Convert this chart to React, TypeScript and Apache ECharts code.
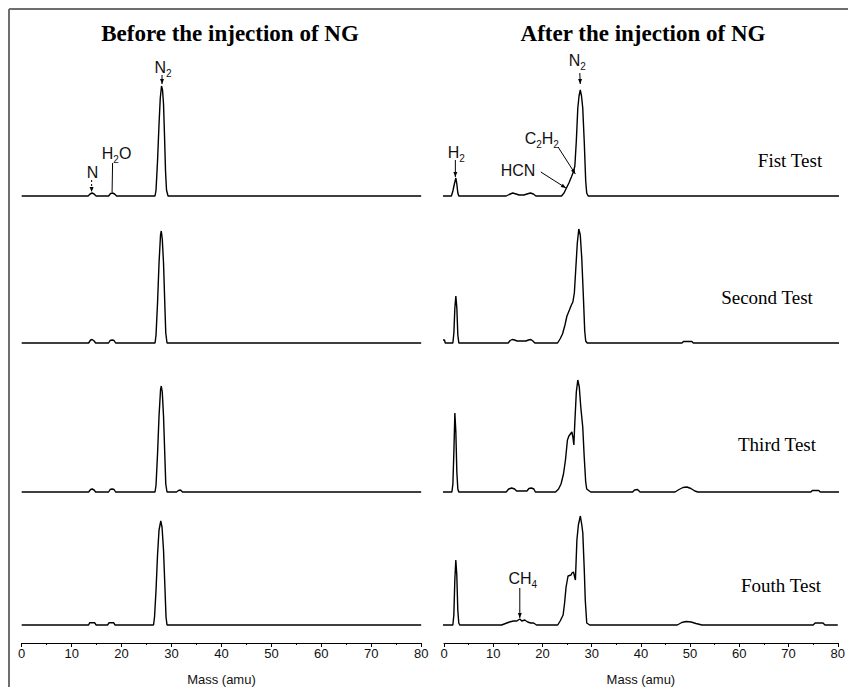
import React, { useEffect, useRef } from "react";
import * as echarts from "echarts";

// ---------- data (mass in amu, intensity in arbitrary units) ----------
const beforeTest1: number[][] = [[0,0],[13.3,0],[13.7,2],[14.1,3],[14.5,2],[14.9,0],[17.4,0],[17.8,2.5],[18.2,3],[18.6,2],[19.0,0],[26.7,0],[26.9,6],[27.2,35],[27.5,72],[27.75,98],[28.0,110],[28.2,106],[28.4,92],[28.6,60],[28.8,25],[29.0,6],[29.3,0],[80,0]];
const beforeTest2: number[][] = [[0,0],[13.4,0],[13.8,3],[14.1,3.5],[14.5,2],[14.8,0],[17.4,0],[17.7,2.5],[18.1,3],[18.5,2.5],[18.8,0],[26.7,0],[26.9,8],[27.2,40],[27.5,80],[27.8,108],[27.95,112],[28.15,104],[28.4,80],[28.65,40],[28.85,10],[29.1,0],[80,0]];
const beforeTest3: number[][] = [[0,0],[13.4,0],[13.8,2.5],[14.1,3],[14.5,2],[14.8,0],[17.4,0],[17.7,2.5],[18.1,3],[18.5,2.5],[18.8,0],[26.7,0],[26.9,7],[27.2,38],[27.5,76],[27.8,102],[27.95,106],[28.15,100],[28.4,76],[28.65,38],[28.85,8],[29.1,0],[31.0,0],[31.4,1.5],[31.8,2],[32.2,0],[80,0]];
const beforeTest4: number[][] = [[0,0],[13.4,0],[13.6,2.3],[14.6,2.3],[14.9,0],[17.2,0],[17.5,2.3],[18.4,2.3],[18.7,0],[26.4,0],[26.6,8],[26.9,35],[27.2,70],[27.5,95],[27.85,104],[28.1,98],[28.4,75],[28.7,35],[28.9,8],[29.1,0],[80,0]];

const afterTest1: number[][] = [[-0.5,0],[1.5,0],[1.8,5],[2.1,12],[2.4,18],[2.6,12],[2.8,3],[3.0,0],[12.6,0],[13.2,1.5],[13.9,3],[14.6,2],[15.2,1],[16.2,1],[16.8,2],[17.5,3],[18.1,2],[18.6,0],[23.8,0],[24.3,3],[24.8,8],[25.3,13],[25.8,19],[26.2,24],[26.5,30],[26.8,55],[27.1,88],[27.35,100],[27.6,106],[27.85,100],[28.1,88],[28.4,55],[28.7,15],[28.9,3],[29.2,0],[80,0]];
const afterTest2: number[][] = [[-0.5,3],[0.1,3],[0.25,0],[1.8,0],[2.0,10],[2.2,35],[2.4,47],[2.6,35],[2.8,8],[3.0,0],[13.0,0],[13.4,2.5],[13.8,3.5],[14.3,3],[14.8,2],[16.6,2],[17.1,3],[17.6,3.5],[18.0,2],[18.4,0],[23.0,0],[23.5,4],[24.0,9],[24.5,18],[24.9,27],[25.4,33],[25.8,38],[26.1,41],[26.4,50],[26.7,75],[27.0,100],[27.3,114],[27.6,108],[27.9,85],[28.2,50],[28.5,12],[28.7,2],[29.0,0],[48.2,0],[48.5,1.5],[50.2,1.5],[50.5,0],[80,0]];
const afterTest3: number[][] = [[-0.5,0],[1.6,0],[1.8,8],[2.0,40],[2.2,79],[2.4,60],[2.6,20],[2.8,3],[3.0,0],[12.6,0],[13.1,3],[13.7,4],[14.3,3],[14.7,1],[16.8,1],[17.2,3.5],[17.7,4],[18.2,3],[18.5,0],[22.6,0],[23.2,3],[23.7,8],[24.2,18],[24.6,32],[25.0,52],[25.3,56],[25.6,58],[25.9,60],[26.1,55],[26.3,47],[26.5,70],[26.8,100],[27.1,112],[27.4,105],[27.7,85],[28.1,65],[28.4,35],[28.7,10],[28.9,3],[29.7,0],[38.2,0],[38.6,2],[39.2,2.5],[39.7,0],[46.8,0],[47.6,2.5],[48.4,4.5],[49.2,5],[50.0,3.5],[50.8,1],[51.4,0],[74.3,0],[74.6,1.5],[75.9,1.5],[76.2,0],[80,0]];
const afterTest4: number[][] = [[-0.5,0],[1.8,0],[2.0,10],[2.2,45],[2.4,65],[2.6,50],[2.8,15],[3.0,2],[3.2,0],[11.7,0],[12.5,1.5],[13.3,3],[14.1,4],[14.8,4],[15.4,6],[15.8,4],[16.4,5],[17.0,3],[17.6,2],[18.2,2],[18.8,0],[23.1,0],[23.6,4],[24.2,10],[24.5,22],[24.8,38],[25.2,49],[25.8,50],[26.0,52],[26.3,53],[26.7,45],[27.0,85],[27.3,100],[27.7,109],[28.0,100],[28.2,92],[28.5,55],[28.7,25],[29.0,2],[29.6,0],[47.4,0],[48.3,2.5],[49.2,3.5],[50.2,3],[51.2,1.5],[52.4,0],[75.0,0],[75.4,2],[77.0,2],[77.4,0],[80,0]];

const beforeSeries = [beforeTest1, beforeTest2, beforeTest3, beforeTest4];
const afterSeries = [afterTest1, afterTest2, afterTest3, afterTest4];

const panelTitles = ["Before the injection of NG", "After the injection of NG"];
const testLabels = ["Fist Test", "Second Test", "Third Test", "Fouth Test"];
const axisName = "Mass (amu)";
const massMin = 0;
const massMax = 80;
const massInterval = 10;

// peak annotations: grid index, label, label anchor (mass, intensity), pointer line (mass, intensity) pairs
type Ann = { grid: number; label: string; at: number[]; from: number[]; to: number[]; dashed?: boolean; head?: boolean };
const annotations: Ann[] = [
  { grid: 0, label: "N", at: [14.2, 24], from: [14.0, 16], to: [14.0, 4], dashed: true, head: true },
  { grid: 0, label: "H{s|2}O", at: [19.0, 43], from: [18.2, 33], to: [18.1, 4], head: false },
  { grid: 0, label: "N{s|2}", at: [28.3, 129], from: [28.1, 121], to: [28.1, 112], head: true },
  { grid: 1, label: "H{s|2}", at: [2.5, 44], from: [2.3, 36], to: [2.3, 19], head: true },
  { grid: 1, label: "HCN", at: [15.0, 26], from: [19.6, 24], to: [24.7, 8], head: true },
  { grid: 1, label: "C{s|2}H{s|2}", at: [19.8, 58], from: [23.1, 49], to: [26.6, 22], head: true },
  { grid: 1, label: "N{s|2}", at: [27.0, 136], from: [27.5, 123], to: [27.6, 112], head: true },
  { grid: 7, label: "CH{s|4}", at: [16.0, 47], from: [15.4, 37], to: [15.4, 7], head: true },
];

// ---------- layout ----------
const rowBaselines = [196, 343, 492, 625];
const rowHeight = 130;
const colLeft = [21.7, 444];
const colWidth = [399.5, 395];
const axisOffset = 18;

const SERIF = "'Liberation Serif', 'Times New Roman', serif";
const SANS = "'Liberation Sans', Arial, sans-serif";

function arrowHead(x1: number, y1: number, x2: number, y2: number, len = 5, half = 2) {
  const dx = x2 - x1, dy = y2 - y1;
  const L = Math.hypot(dx, dy) || 1;
  const ux = dx / L, uy = dy / L;
  const bx = x2 - ux * len, by = y2 - uy * len;
  return [[x2, y2], [bx - uy * half, by + ux * half], [bx + uy * half, by - ux * half]];
}

export default function App() {
  const ref = useRef<HTMLDivElement>(null);

  useEffect(() => {
    if (!ref.current) return;
    const chart = echarts.init(ref.current, null, { renderer: "svg" });

    const grids: any[] = [];
    const xAxes: any[] = [];
    const yAxes: any[] = [];
    const series: any[] = [];
    for (let r = 0; r < 4; r++) {
      for (let c = 0; c < 2; c++) {
        const idx = r * 2 + c;
        grids.push({
          left: colLeft[c],
          width: colWidth[c],
          top: rowBaselines[r] - rowHeight,
          height: rowHeight,
          containLabel: false,
        });
        const bottom = r === 3;
        xAxes.push({
          type: "value",
          gridIndex: idx,
          min: massMin,
          max: massMax,
          interval: massInterval,
          show: bottom,
          offset: bottom ? axisOffset : 0,
          axisLine: { show: true, onZero: false, lineStyle: { color: "#000", width: 1 } },
          axisTick: { show: true, length: 4, inside: false, lineStyle: { color: "#000", width: 1 } },
          minorTick: { show: true, splitNumber: 2, length: 2, lineStyle: { color: "#000", width: 1 } },
          splitLine: { show: false },
          axisLabel: { color: "#111", fontSize: 13, fontFamily: SANS, margin: 4 },
          name: bottom ? axisName : "",
          nameLocation: "middle",
          nameGap: 30,
          nameTextStyle: { color: "#111", fontSize: 13, fontFamily: SANS },
        });
        yAxes.push({ type: "value", gridIndex: idx, min: 0, max: rowHeight, show: false, splitLine: { show: false } });
        series.push({
          type: "line",
          xAxisIndex: idx,
          yAxisIndex: idx,
          data: (c === 0 ? beforeSeries : afterSeries)[r],
          showSymbol: false,
          symbol: "none",
          clip: false,
          lineStyle: { color: "#000", width: 1.4 },
          silent: true,
        });
      }
    }

    chart.setOption({
      animation: false,
      backgroundColor: "#fff",
      grid: grids,
      xAxis: xAxes,
      yAxis: yAxes,
      series,
    });

    const g: any[] = [];
    // frame (top and left edges)
    g.push({ type: "line", shape: { x1: 9, y1: 9, x2: 848, y2: 9 }, style: { stroke: "#6e6e6e", lineWidth: 2 } });
    g.push({ type: "line", shape: { x1: 9, y1: 9, x2: 9, y2: 687 }, style: { stroke: "#6e6e6e", lineWidth: 2 } });

    // panel titles
    const titleX = [230, 643];
    panelTitles.forEach((t, i) => {
      g.push({
        type: "text",
        x: titleX[i],
        y: 33,
        style: { text: t, fontSize: 23, fontWeight: "bold", fontFamily: SERIF, fill: "#000", align: "center", verticalAlign: "middle", textAlign: "center", textVerticalAlign: "middle" },
      });
    });

    // test labels
    const labelPos = [[790, 160], [767, 297], [777, 444], [781, 585]];
    testLabels.forEach((t, i) => {
      g.push({
        type: "text",
        x: labelPos[i][0],
        y: labelPos[i][1],
        style: { text: t, fontSize: 19, fontFamily: SERIF, fill: "#000", align: "center", verticalAlign: "middle", textAlign: "center", textVerticalAlign: "middle" },
      });
    });

    // annotations
    annotations.forEach((a) => {
      const p = chart.convertToPixel({ gridIndex: a.grid } as any, a.at) as number[];
      const f = chart.convertToPixel({ gridIndex: a.grid } as any, a.from) as number[];
      const t = chart.convertToPixel({ gridIndex: a.grid } as any, a.to) as number[];
      g.push({
        type: "text",
        x: p[0],
        y: p[1],
        style: {
          text: a.label,
          fontSize: 16,
          fontFamily: SANS,
          fill: "#111",
          lineHeight: 22,
          align: "center",
          verticalAlign: "middle",
          textAlign: "center",
          textVerticalAlign: "middle",
          rich: { s: { fontSize: 10, fontFamily: SANS, fill: "#111", verticalAlign: "bottom" } },
        },
      });
      g.push({
        type: "line",
        shape: { x1: f[0], y1: f[1], x2: t[0], y2: t[1] },
        style: { stroke: "#000", lineWidth: 1, lineDash: a.dashed ? [2, 2] : null },
      });
      if (a.head) {
        g.push({ type: "polygon", shape: { points: arrowHead(f[0], f[1], t[0], t[1], 5, 2) }, style: { fill: "#000" } });
      }
    });

    chart.setOption({ graphic: g });

    return () => chart.dispose();
  }, []);

  return <div ref={ref} style={{ position: "absolute", left: 0, top: 0, width: 848, height: 687 }} />;
}
